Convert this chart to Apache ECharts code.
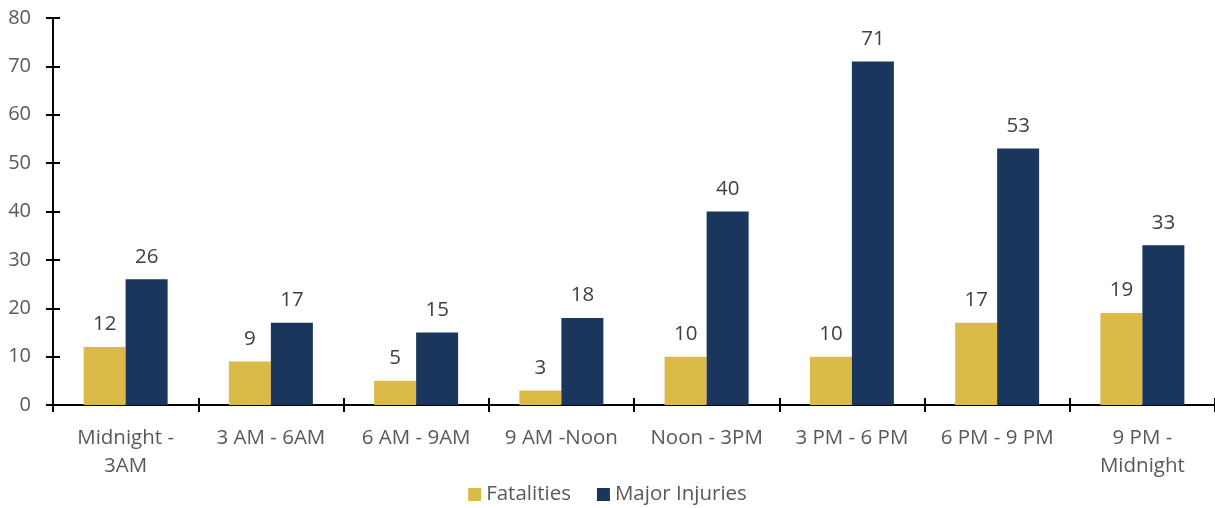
<!DOCTYPE html>
<html lang="en">
<head>
    <meta charset="UTF-8" />
    <title>Fatalities and Major Injuries by Time of Day</title>
    <script src="https://cdn.jsdelivr.net/npm/echarts@6/dist/echarts.min.js"></script>
</head>
<body style="margin: 0">
    <div id="chart" style="width: 1215px; height: 508px"></div>
    <script>
        var categories = ["Midnight -\n3AM", "3 AM - 6AM", "6 AM - 9AM", "9 AM -Noon", "Noon - 3PM", "3 PM - 6 PM", "6 PM - 9 PM", "9 PM -\nMidnight"];
        var fatalities = [12, 9, 5, 3, 10, 10, 17, 19];
        var majorInjuries = [26, 17, 15, 18, 40, 71, 53, 33];

        var font = "Open Sans";
        var myChart = echarts.init(document.getElementById("chart"));

        var option = {
            animation: false,
            textStyle: { fontFamily: font },
            grid: { left: 53, top: 18, width: 1166, bottom: 103 },
            legend: {
                bottom: -2,
                left: "center",
                itemWidth: 13,
                itemHeight: 13,
                itemGap: 26,
                icon: "rect",
                textStyle: { fontSize: 20.5, color: "#595959", fontFamily: font },
                data: ["Fatalities", "Major Injuries"]
            },
            xAxis: [
                {
                    type: "category",
                    data: categories,
                    axisLine: { lineStyle: { color: "#000", width: 2 } },
                    axisTick: { show: true, length: 7, lineStyle: { color: "#000", width: 2 } },
                    axisLabel: { fontSize: 20.5, color: "#595959", margin: 19, lineHeight: 28, interval: 0 }
                },
                {
                    type: "category",
                    data: categories,
                    position: "bottom",
                    axisLine: { show: false },
                    axisTick: { show: true, inside: true, length: 7, lineStyle: { color: "#000", width: 2 } },
                    axisLabel: { show: false }
                }
            ],
            yAxis: [
                {
                    type: "value",
                    min: 0,
                    max: 80,
                    interval: 10,
                    splitLine: { show: false },
                    axisLine: { show: true, lineStyle: { color: "#000", width: 2 } },
                    axisTick: { show: true, length: 7, lineStyle: { color: "#000", width: 2 } },
                    axisLabel: { fontSize: 20, color: "#595959", margin: 22 }
                },
                {
                    type: "value",
                    min: 0,
                    max: 80,
                    interval: 10,
                    position: "left",
                    splitLine: { show: false },
                    axisLine: { show: false },
                    axisTick: { show: true, inside: true, length: 7, lineStyle: { color: "#000", width: 2 } },
                    axisLabel: { show: false }
                }
            ],
            series: [
                {
                    name: "Fatalities",
                    type: "bar",
                    data: fatalities,
                    barWidth: 42,
                    barGap: "0%",
                    itemStyle: { color: "#DBBB48" },
                    label: { show: true, position: "top", distance: 12, fontSize: 20.5, color: "#404040" }
                },
                {
                    name: "Major Injuries",
                    type: "bar",
                    data: majorInjuries,
                    barWidth: 42,
                    barGap: "0%",
                    itemStyle: { color: "#1A365D" },
                    label: { show: true, position: "top", distance: 12, fontSize: 20.5, color: "#404040" }
                }
            ]
        };
        myChart.setOption(option);
    </script>
</body>
</html>
